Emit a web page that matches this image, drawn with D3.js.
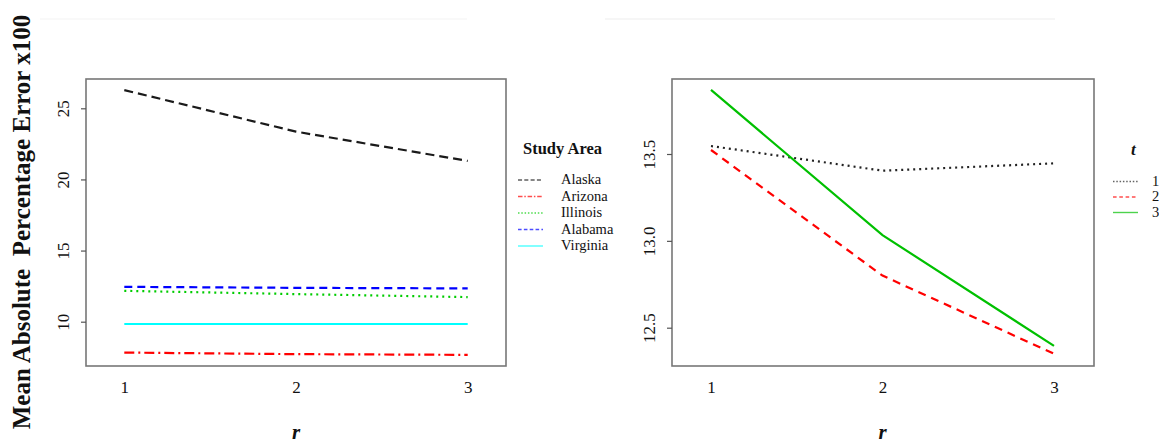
<!DOCTYPE html>
<html><head><meta charset="utf-8">
<script src="https://cdn.jsdelivr.net/npm/d3@7"></script>
<style>body{margin:0;background:#fff}svg{display:block}text{font-family:"Liberation Serif","Times New Roman",serif;fill:#111}</style>
</head><body>
<svg id="c" width="1159" height="444"></svg>
<script>
// ---- data ----
const rValues = [1, 2, 3];
const xTickLabels = ["1", "2", "3"];
const studyAreas = ["Alaska", "Arizona", "Illinois", "Alabama", "Virginia"];
const alaska   = [26.28, 23.36, 21.30];
const arizona  = [7.83, 7.72, 7.67];
const illinois = [12.17, 11.94, 11.73];
const alabama  = [12.45, 12.38, 12.34];
const virginia = [9.84, 9.84, 9.84];
const leftYTicks = [10, 15, 20, 25];
const leftYTickLabels = ["10", "15", "20", "25"];

const tLevels = ["1", "2", "3"];
const t1 = [13.546, 13.404, 13.446];
const t2 = [13.523, 12.80, 12.35];
const t3 = [13.869, 13.033, 12.395];
const rightYTicks = [12.5, 13.0, 13.5];
const rightYTickLabels = ["12.5", "13.0", "13.5"];

const yTitle = "Mean Absolute  Percentage Error x100";

// ---- styles ----
const leftSeries = [
  {name: studyAreas[0], values: alaska,   color: "#1a1a1a", dash: "9,5"},
  {name: studyAreas[1], values: arizona,  color: "#ff0000", dash: "10,4,2,4"},
  {name: studyAreas[2], values: illinois, color: "#00cc00", dash: "2,4"},
  {name: studyAreas[3], values: alabama,  color: "#0000ff", dash: "8,5"},
  {name: studyAreas[4], values: virginia, color: "#00ffff", dash: null}
];
const rightSeries = [
  {name: tLevels[0], values: t1, color: "#222222", dash: "2,4"},
  {name: tLevels[1], values: t2, color: "#ff0000", dash: "8,6"},
  {name: tLevels[2], values: t3, color: "#00c000", dash: null}
];

const svg = d3.select("#c");
const SERIF = '"Liberation Serif","Times New Roman",serif';

// faint top lines
svg.append("line").attr("x1",40).attr("x2",467).attr("y1",19).attr("y2",19).attr("stroke","#f3f3f3").attr("stroke-width",1);
svg.append("line").attr("x1",605).attr("x2",1055).attr("y1",19).attr("y2",19).attr("stroke","#f3f3f3").attr("stroke-width",1.5);

function panel(opt) {
  const x = d3.scaleLinear().domain([1,3]).range(opt.xr);
  const y = d3.scaleLinear().domain(opt.yd).range(opt.yr);
  const g = svg.append("g");
  // box
  g.append("rect").attr("x",opt.box[0]).attr("y",opt.box[1])
    .attr("width",opt.box[2]-opt.box[0]).attr("height",opt.box[3]-opt.box[1])
    .attr("fill","none").attr("stroke","#777").attr("stroke-width",1.6);
  // y axis ticks
  const ya = d3.axisLeft(y).tickValues(opt.yTicks).tickSize(5)
    .tickFormat((d,i)=>opt.yTickLabels[i]);
  const yg = g.append("g").attr("transform",`translate(${opt.box[0]},0)`).call(ya)
    .attr("font-family",SERIF);
  yg.select(".domain").remove();
  yg.selectAll(".tick line").attr("stroke","#555").attr("stroke-width",1.2);
  yg.selectAll(".tick text").attr("font-size",17).attr("fill","#222")
    .attr("transform","rotate(-90)").attr("text-anchor","middle")
    .attr("x",0).attr("y",-17).attr("dy","0");
  // x labels
  const xa = d3.axisBottom(x).tickValues(rValues).tickSize(0).tickFormat((d,i)=>xTickLabels[i]);
  const xg = g.append("g").attr("transform",`translate(0,${opt.box[3]})`).call(xa)
    .attr("font-family",SERIF);
  xg.select(".domain").remove();
  xg.selectAll(".tick text").attr("font-size",17).attr("fill","#222").attr("dy","0").attr("y",27);
  // x title
  g.append("text").attr("x",(x(1)+x(3))/2).attr("y",439).attr("text-anchor","middle")
    .attr("font-size",21).attr("font-weight","bold").attr("font-style","italic").text("r");
  // lines
  const line = d3.line().x((d,i)=>x(rValues[i])).y(d=>y(d));
  opt.series.forEach(s=>{
    g.append("path").attr("d",line(s.values)).attr("fill","none")
      .attr("stroke",s.color).attr("stroke-width",2.2)
      .attr("stroke-dasharray",s.dash);
  });
  // legend
  const L = opt.legend;
  g.append("text").attr("x",L.tx).attr("y",L.ty).attr("font-size",L.tsize)
    .attr("font-weight","bold").attr("font-style",L.italic?"italic":"normal").text(L.title);
  opt.series.forEach((s,i)=>{
    const yy = L.y0 + i*L.dy;
    g.append("line").attr("x1",L.lx0).attr("x2",L.lx1).attr("y1",yy).attr("y2",yy)
      .attr("stroke",s.color).attr("stroke-width",1.4).attr("stroke-opacity",0.7)
      .attr("stroke-dasharray",s.dash ? s.dash.split(",").map(v=>Math.max(1.5,v*0.45)).join(",") : null);
    g.append("text").attr("x",L.textx).attr("y",yy+4).attr("font-size",14.5).attr("fill","#222").text(s.name);
  });
}

panel({
  box:[86,79,506,366], xr:[124.3,467.7], yd:[10,25], yr:[321.7,108.3],
  yTicks:leftYTicks, yTickLabels:leftYTickLabels, series:leftSeries,
  legend:{title:"Study Area", tx:523, ty:154, tsize:16.5, italic:false,
          y0:180, dy:16.5, lx0:518, lx1:543, textx:561}
});
panel({
  box:[672,79,1094,366], xr:[711,1054], yd:[12.5,13.5], yr:[327.7,154],
  yTicks:rightYTicks, yTickLabels:rightYTickLabels, series:rightSeries,
  legend:{title:"t", tx:1131, ty:155, tsize:17, italic:true,
          y0:181.5, dy:15.5, lx0:1113, lx1:1138, textx:1152}
});

// y title
svg.append("text").attr("transform","translate(30,222) rotate(-90)")
  .attr("text-anchor","middle").attr("font-size",25).attr("font-weight","bold")
  .attr("fill","#111").style("white-space","pre").attr("xml:space","preserve").text(yTitle);
</script>
</body></html>
